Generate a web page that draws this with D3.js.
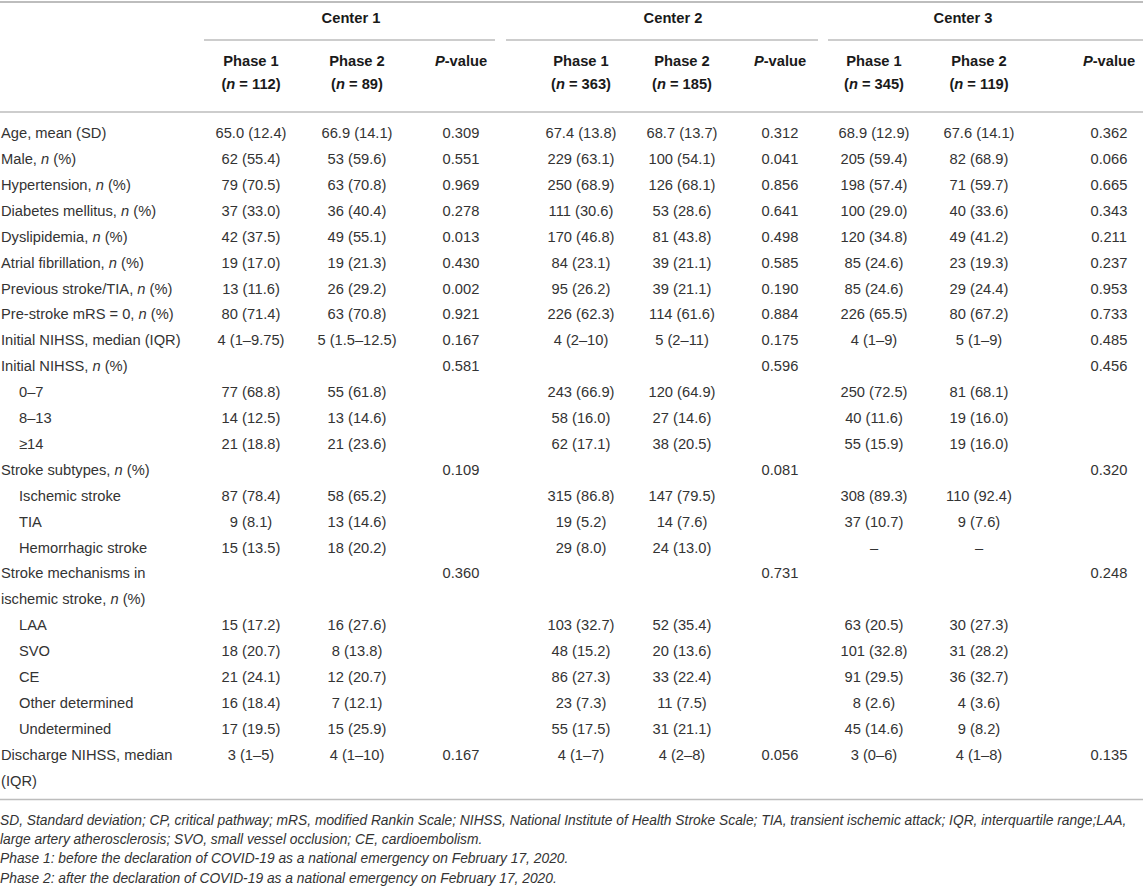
<!DOCTYPE html>
<html>
<head>
<meta charset="utf-8">
<script src="https://cdn.jsdelivr.net/npm/d3@7"></script>
<style>
  body { margin: 0; background: #fff; }
  svg { display: block; font-family: "Liberation Sans", Arial, Helvetica, sans-serif; }
</style>
</head>
<body>
<div id="table"></div>
<script>
// ---- table content ----
var centers = ["Center 1", "Center 2", "Center 3"];
var phaseHeads = ["Phase 1", "Phase 2", "*P*-value"];
var centerN = [[112, 89], [363, 185], [345, 119]];

// "|" = line break, "*...*" = italic
var rowLabels = [
  "Age, mean (SD)", "Male, *n* (%)", "Hypertension, *n* (%)", "Diabetes mellitus, *n* (%)",
  "Dyslipidemia, *n* (%)", "Atrial fibrillation, *n* (%)", "Previous stroke/TIA, *n* (%)",
  "Pre-stroke mRS = 0, *n* (%)", "Initial NIHSS, median (IQR)", "Initial NIHSS, *n* (%)",
  "0–7", "8–13", "≥14", "Stroke subtypes, *n* (%)", "Ischemic stroke", "TIA",
  "Hemorrhagic stroke", "Stroke mechanisms in|ischemic stroke, *n* (%)", "LAA", "SVO", "CE",
  "Other determined", "Undetermined", "Discharge NIHSS, median|(IQR)"
];
var subRows = ["0–7", "8–13", "≥14", "Ischemic stroke", "TIA", "Hemorrhagic stroke",
  "LAA", "SVO", "CE", "Other determined", "Undetermined"];

var c1Phase1 = ["65.0 (12.4)", "62 (55.4)", "79 (70.5)", "37 (33.0)", "42 (37.5)", "19 (17.0)", "13 (11.6)", "80 (71.4)", "4 (1–9.75)", "", "77 (68.8)", "14 (12.5)", "21 (18.8)", "", "87 (78.4)", "9 (8.1)", "15 (13.5)", "", "15 (17.2)", "18 (20.7)", "21 (24.1)", "16 (18.4)", "17 (19.5)", "3 (1–5)"];
var c1Phase2 = ["66.9 (14.1)", "53 (59.6)", "63 (70.8)", "36 (40.4)", "49 (55.1)", "19 (21.3)", "26 (29.2)", "63 (70.8)", "5 (1.5–12.5)", "", "55 (61.8)", "13 (14.6)", "21 (23.6)", "", "58 (65.2)", "13 (14.6)", "18 (20.2)", "", "16 (27.6)", "8 (13.8)", "12 (20.7)", "7 (12.1)", "15 (25.9)", "4 (1–10)"];
var c1P = ["0.309", "0.551", "0.969", "0.278", "0.013", "0.430", "0.002", "0.921", "0.167", "0.581", "", "", "", "0.109", "", "", "", "0.360", "", "", "", "", "", "0.167"];
var c2Phase1 = ["67.4 (13.8)", "229 (63.1)", "250 (68.9)", "111 (30.6)", "170 (46.8)", "84 (23.1)", "95 (26.2)", "226 (62.3)", "4 (2–10)", "", "243 (66.9)", "58 (16.0)", "62 (17.1)", "", "315 (86.8)", "19 (5.2)", "29 (8.0)", "", "103 (32.7)", "48 (15.2)", "86 (27.3)", "23 (7.3)", "55 (17.5)", "4 (1–7)"];
var c2Phase2 = ["68.7 (13.7)", "100 (54.1)", "126 (68.1)", "53 (28.6)", "81 (43.8)", "39 (21.1)", "39 (21.1)", "114 (61.6)", "5 (2–11)", "", "120 (64.9)", "27 (14.6)", "38 (20.5)", "", "147 (79.5)", "14 (7.6)", "24 (13.0)", "", "52 (35.4)", "20 (13.6)", "33 (22.4)", "11 (7.5)", "31 (21.1)", "4 (2–8)"];
var c2P = ["0.312", "0.041", "0.856", "0.641", "0.498", "0.585", "0.190", "0.884", "0.175", "0.596", "", "", "", "0.081", "", "", "", "0.731", "", "", "", "", "", "0.056"];
var c3Phase1 = ["68.9 (12.9)", "205 (59.4)", "198 (57.4)", "100 (29.0)", "120 (34.8)", "85 (24.6)", "85 (24.6)", "226 (65.5)", "4 (1–9)", "", "250 (72.5)", "40 (11.6)", "55 (15.9)", "", "308 (89.3)", "37 (10.7)", "–", "", "63 (20.5)", "101 (32.8)", "91 (29.5)", "8 (2.6)", "45 (14.6)", "3 (0–6)"];
var c3Phase2 = ["67.6 (14.1)", "82 (68.9)", "71 (59.7)", "40 (33.6)", "49 (41.2)", "23 (19.3)", "29 (24.4)", "80 (67.2)", "5 (1–9)", "", "81 (68.1)", "19 (16.0)", "19 (16.0)", "", "110 (92.4)", "9 (7.6)", "–", "", "30 (27.3)", "31 (28.2)", "36 (32.7)", "4 (3.6)", "9 (8.2)", "4 (1–8)"];
var c3P = ["0.362", "0.066", "0.665", "0.343", "0.211", "0.237", "0.953", "0.733", "0.485", "0.456", "", "", "", "0.320", "", "", "", "0.248", "", "", "", "", "", "0.135"];

var footNotes = [
  "SD, Standard deviation; CP, critical pathway; mRS, modified Rankin Scale; NIHSS, National Institute of Health Stroke Scale; TIA, transient ischemic attack; IQR, interquartile range;LAA,",
  "large artery atherosclerosis; SVO, small vessel occlusion; CE, cardioembolism.",
  "Phase 1: before the declaration of COVID-19 as a national emergency on February 17, 2020.",
  "Phase 2: after the declaration of COVID-19 as a national emergency on February 17, 2020."
];

// ---- layout ----
var width = 1143, height = 888;
var textColor = "#333", ruleColor = "#bdbdbd";

var colKeys = ["c1p1", "c1p2", "c1p", "c2p1", "c2p2", "c2p", "c3p1", "c3p2", "c3p"];
var columns = [c1Phase1, c1Phase2, c1P, c2Phase1, c2Phase2, c2P, c3Phase1, c3Phase2, c3P];

var x = d3.scaleOrdinal()
  .domain(colKeys)
  .range([251, 357, 461, 581, 682, 780, 874, 979, 1109]);
var groupX = d3.scaleOrdinal().domain(centers).range([351, 673, 963]);
var groupSpan = d3.scaleOrdinal().domain(centers).range([[204, 495], [506, 818], [828, 1143]]);

// line index -> vertical centre of text line
var y = d3.scaleLinear().domain([0, 1]).range([133, 158.9]);
var yHead = d3.scaleLinear().domain([0, 1]).range([61, 84]);
var yFoot = d3.scaleLinear().domain([0, 1]).range([820, 839.3]);

// where each row starts (rows with 2-line labels take 2 slots)
var rowStart = [];
var acc = 0;
rowLabels.forEach(function (l) { rowStart.push(acc); acc += l.split("|").length; });
var nLines = acc;

var svg = d3.select("#table").append("svg")
  .attr("width", width)
  .attr("height", height);

function rich(sel, str) {
  str.split("*").forEach(function (part, i) {
    if (part === "") return;
    sel.append("tspan").attr("font-style", i % 2 ? "italic" : null).text(part);
  });
}

// rules
svg.append("line").attr("x1", 0).attr("x2", width).attr("y1", 2).attr("y2", 2)
  .attr("stroke", ruleColor).attr("stroke-width", 2.2);
svg.append("line").attr("x1", 0).attr("x2", width).attr("y1", 112).attr("y2", 112)
  .attr("stroke", ruleColor).attr("stroke-width", 1.6);
svg.append("line").attr("x1", 0).attr("x2", width)
  .attr("y1", y(nLines - 1) + 19).attr("y2", y(nLines - 1) + 19)
  .attr("stroke", ruleColor).attr("stroke-width", 1.6);

// center headers
var heads = svg.append("g").attr("font-weight", "bold").attr("font-size", 14.7).attr("fill", "#1a1a1a");
centers.forEach(function (c, ci) {
  heads.append("text")
    .attr("x", groupX(c)).attr("y", 18).attr("dy", "0.35em")
    .attr("text-anchor", "middle").text(c);
  var span = groupSpan(c);
  svg.append("line").attr("x1", span[0]).attr("x2", span[1]).attr("y1", 40).attr("y2", 40)
    .attr("stroke", ruleColor).attr("stroke-width", 1.3);
  phaseHeads.forEach(function (p, pi) {
    var k = colKeys[ci * 3 + pi];
    rich(heads.append("text").attr("x", x(k)).attr("y", yHead(0)).attr("dy", "0.35em")
      .attr("text-anchor", "middle"), p);
    if (pi < 2) {
      rich(heads.append("text").attr("x", x(k)).attr("y", yHead(1)).attr("dy", "0.35em")
        .attr("text-anchor", "middle"), "(*n* = " + centerN[ci][pi] + ")");
    }
  });
});

// row labels
var body = svg.append("g").attr("font-size", 14.7).attr("fill", textColor);
rowLabels.forEach(function (l, ri) {
  var indent = subRows.indexOf(l) >= 0 ? 19 : 1;
  l.split("|").forEach(function (line, li) {
    rich(body.append("text").attr("x", indent).attr("y", y(rowStart[ri] + li)).attr("dy", "0.35em"), line);
  });
});

// cell values
columns.forEach(function (col, ci) {
  body.append("g").selectAll("text")
    .data(col)
    .join("text")
    .attr("x", x(colKeys[ci]))
    .attr("y", function (d, ri) { return y(rowStart[ri]); })
    .attr("dy", "0.35em")
    .attr("text-anchor", "middle")
    .text(function (d) { return d; });
});

// footnotes
svg.append("g").attr("font-size", 13.8).attr("font-style", "italic").attr("fill", textColor)
  .selectAll("text")
  .data(footNotes)
  .join("text")
  .attr("x", 0)
  .attr("y", function (d, i) { return yFoot(i); })
  .attr("dy", "0.35em")
  .text(function (d) { return d; });
</script>
</body>
</html>
